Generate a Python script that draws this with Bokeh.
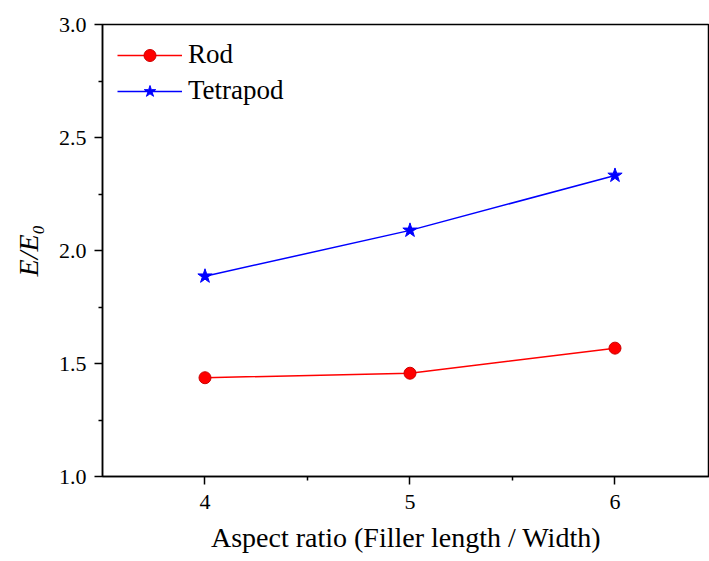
from bokeh.plotting import figure
from bokeh.models import Range1d, FixedTicker, Legend, LegendItem
from bokeh.embed import file_html
from bokeh.resources import INLINE

aspect_ratio = [4, 5, 6]
rod = [1.437, 1.457, 1.568]
tetrapod = [1.886, 2.089, 2.332]
x_ticks = [4, 5, 6]
y_ticks = [1.0, 1.5, 2.0, 2.5, 3.0]

FONT = "Liberation Serif"

p = figure(width=709, height=561, output_backend="svg", toolbar_location=None,
           x_range=Range1d(3.5, 6.461), y_range=Range1d(1.0, 3.0),
           min_border_left=102, min_border_right=0, min_border_top=24, min_border_bottom=85)

p.grid.visible = False
p.outline_line_color = "black"
p.outline_line_width = 1.5
p.background_fill_color = "white"
p.border_fill_color = "white"

p.axis.axis_line_width = 1.5
p.axis.axis_line_color = "black"
p.axis.major_tick_in = 0
p.axis.major_tick_out = 8
p.axis.minor_tick_in = 0
p.axis.minor_tick_out = 4
p.axis.major_tick_line_width = 1.5
p.axis.minor_tick_line_width = 1.5
p.axis.major_label_text_font = FONT
p.axis.major_label_text_font_size = "22px"
p.axis.major_label_text_font_style = "normal"
p.axis.major_label_text_color = "black"
p.axis.axis_label_text_font = FONT
p.axis.axis_label_text_font_size = "28px"
p.axis.axis_label_text_color = "black"

p.xaxis.ticker = FixedTicker(ticks=x_ticks, minor_ticks=[4.5, 5.5])
p.yaxis.ticker = FixedTicker(ticks=y_ticks, minor_ticks=[1.25, 1.75, 2.25, 2.75])
p.yaxis.major_label_overrides = {1.0: "1.0", 2.0: "2.0", 3.0: "3.0"}
p.xaxis.major_label_overrides = {4: "4", 5: "5", 6: "6"}
p.xaxis.major_label_standoff = 10
p.yaxis.major_label_standoff = 8
p.xaxis.axis_label = "Aspect ratio (Filler length / Width)"
p.xaxis.axis_label_text_font_style = "normal"
p.xaxis.axis_label_standoff = 10
p.yaxis.axis_label = "E/E\u2080"
p.yaxis.axis_label_text_font_style = "italic"
p.yaxis.axis_label_standoff = 12

r1 = p.line(aspect_ratio, rod, line_color="red", line_width=1.5)
r1m = p.scatter(aspect_ratio, rod, marker="circle", size=12, fill_color="red", line_color="#cc0000")
r2 = p.line(aspect_ratio, tetrapod, line_color="blue", line_width=1.5)
r2m = p.scatter(aspect_ratio, tetrapod, marker="star", size=15, fill_color="blue", line_color="blue")

legend = Legend(items=[LegendItem(label="Rod", renderers=[r1, r1m]),
                       LegendItem(label="Tetrapod", renderers=[r2, r2m])],
                location="top_left")
legend.border_line_color = None
legend.background_fill_alpha = 0
legend.margin = 15
legend.padding = 0
legend.glyph_width = 65
legend.glyph_height = 30
legend.label_height = 30
legend.spacing = 5
legend.label_standoff = 6
legend.label_text_font = FONT
legend.label_text_font_size = "27px"
legend.label_text_color = "black"
p.add_layout(legend)

open("out.html", "w").write(file_html(p, INLINE))
